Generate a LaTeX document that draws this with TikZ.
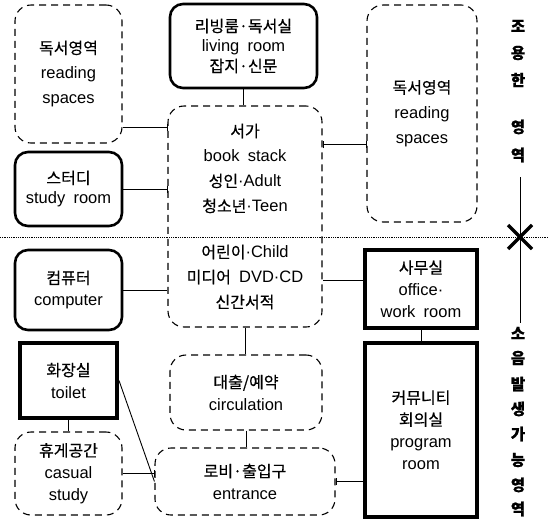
\documentclass[tikz,border=0pt]{standalone}
\usepackage{fontspec}
\setmainfont{Liberation Sans}[WordSpace=1.8]
\newfontfamily\krfont{Noto Sans CJK KR}[Scale=0.97, FakeBold=0.5]
\newcommand{\kr}[1]{{\krfont #1}}
\usetikzlibrary{arrows.meta}

\begin{document}
\begin{tikzpicture}[x=1pt, y=-1pt,
	every node/.style={align=center, inner sep=0pt, font=\fontsize{16.5}{22}\selectfont},
	wide/.style={font=\fontsize{16.5}{25}\selectfont},
	tight/.style={font=\fontsize{16.5}{20}\selectfont},
	zone/.style={draw, dash pattern=on 7pt off 5pt, line width=1.1pt, rounded corners=16pt},
	room/.style={draw, line width=2.6pt, rounded corners=13pt},
	hall/.style={draw, line width=4pt},
	link/.style={line width=0.9pt},
	tick/.style={link, -{Bar[width=7pt, line width=0.9pt]}}]
	\useasboundingbox (0,0) rectangle (548,520);

	% left column
	\node[zone, wide, minimum width=107pt, minimum height=138pt] (readL) at (68.5,74) {\kr{독서영역}\\reading\\spaces};
	\node[room, tight, minimum width=107pt, minimum height=74pt] (study) at (68.5,189) {\kr{스터디}\\study room};
	\node[room, minimum width=107pt, minimum height=80pt] (comp) at (68.5,290) {\kr{컴퓨터}\\computer};
	\node[hall, minimum width=97pt, minimum height=75pt] (toilet) at (68.5,380.5) {\kr{화장실}\\toilet};
	\node[zone, minimum width=107pt, minimum height=83pt] (casual) at (68.5,473.5) {\kr{휴게공간}\\casual\\study};

	% middle column
	\node[room, tight, minimum width=147pt, minimum height=84pt] (living) at (243.5,46) {\kr{리빙룸·독서실}\\living room\\\kr{잡지·신문}};
	\node[zone, wide, minimum width=154pt, minimum height=221pt] (stack) at (245,216.5)
		{\kr{서가}\\book stack\\\kr{성인}·Adult\\\kr{청소년}·Teen\\[21pt]\kr{어린이}·Child\\\kr{미디어} DVD·CD\\\kr{신간서적}};
	\node[zone, minimum width=152pt, minimum height=75pt] (circ) at (246,392.5) {\kr{대출/예약}\\circulation};
	\node[zone, minimum width=180pt, minimum height=67pt] (entry) at (245,481.5) {\kr{로비·출입구}\\entrance};

	% right column
	\node[zone, wide, minimum width=110pt, minimum height=217pt] (readR) at (422,113.5) {\kr{독서영역}\\reading\\spaces};
	\node[hall, minimum width=112pt, minimum height=78pt] (office) at (421,289) {\kr{사무실}\\office·\\work room};
	\node[hall, minimum width=112pt, minimum height=174pt] (prog) at (421,430) {\kr{커뮤니티}\\\kr{회의실}\\program\\room};

	% links
	\draw[tick] ([yshift=-53pt]readL.east) -- ([yshift=-53pt]readL.east -| stack.west);
	\draw[tick] (study.east) -- (study.east -| stack.west);
	\draw[link] (comp.east) -- (comp.east -| stack.west);
	\draw[link] (living.south) -- (living.south |- stack.north);
	\draw[tick] ([yshift=-31pt]readR.west -| stack.east) -- ([yshift=-31pt]readR.west);
	\draw[tick] ([yshift=-31pt]readR.west) -- ([yshift=-31pt]readR.west -| stack.east);
	\draw[link] ([yshift=9pt]office.west) -- ([yshift=9pt]office.west -| stack.east);
	\draw[link] (stack.south) -- (stack.south |- circ.north);
	\draw[link] (circ.south) -- (circ.south |- entry.north);
	\draw[link] (office.south) -- (office.south |- prog.north);
	\draw[tick] (entry.east -| prog.west) -- (entry.east);
	\draw[link] (toilet.south) -- (toilet.south |- casual.north);
	\draw[tick] (casual.east) -- (casual.east -| entry.west);
	\draw[link] (toilet.east) -- (entry.west);

	% zones
	\coordinate (cross) at (520,237);
	\draw[densely dotted, line width=0.8pt] (0,237) -- (548,237);
	\draw[line width=0.7pt] (520,177) -- (520,323);
	\draw[line width=3.5pt] ([shift={(-12,-12)}]cross) -- ([shift={(12,12)}]cross);
	\draw[line width=3.5pt] ([shift={(-12,12)}]cross) -- ([shift={(12,-12)}]cross);
	\foreach \ch/\y [count=\i] in {조/26, 용/53, 한/80, 영/127, 역/155, 소/333, 음/358, 발/384, 생/409, 가/434, 능/460, 영/485, 역/509}
		\node[font=\fontsize{16}{16}\selectfont\bfseries] (zc\i) at (518,\y) {\kr{\ch}};
\end{tikzpicture}
\end{document}
